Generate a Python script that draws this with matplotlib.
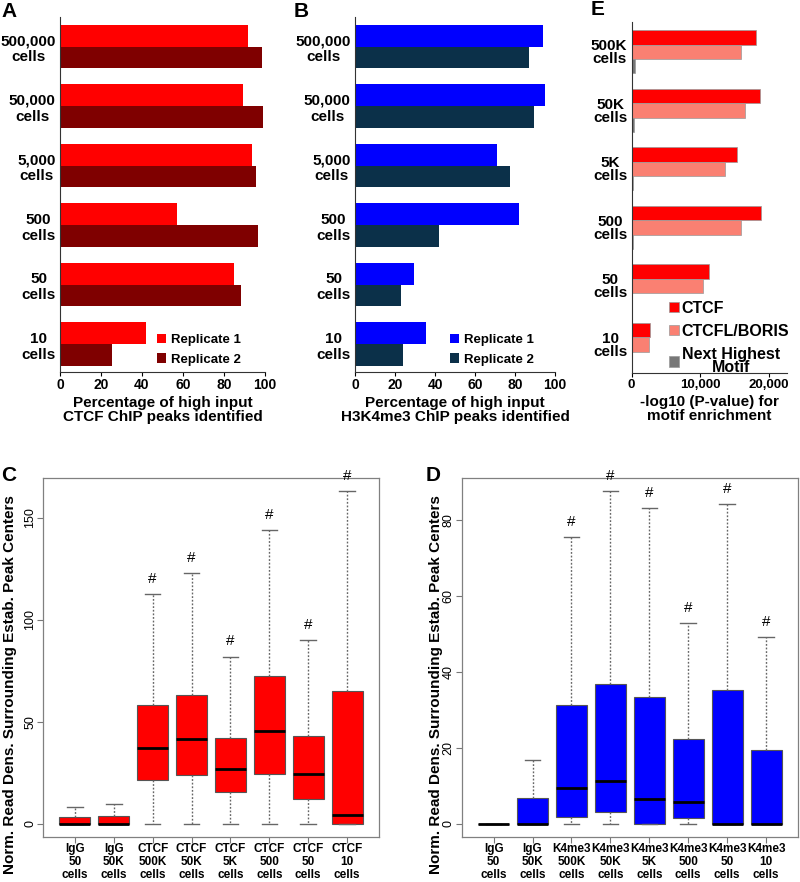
import numpy as np
import matplotlib.pyplot as plt
from matplotlib.ticker import StrMethodFormatter

plt.rcParams['font.family'] = ['Liberation Sans', 'DejaVu Sans']

# panels A and B: percentage of high input peaks identified
cell_labels = ['500,000\ncells', '50,000\ncells', '5,000\ncells', '500\ncells', '50\ncells', '10\ncells']
ctcf_rep1 = [91.5, 89.1, 93.8, 56.9, 85.0, 42.0]
ctcf_rep2 = [98.7, 99.2, 95.8, 96.7, 88.3, 25.5]
k4_rep1 = [94.0, 95.2, 71.0, 82.2, 29.5, 35.3]
k4_rep2 = [87.0, 89.4, 77.6, 42.2, 22.8, 24.0]
pct_ticks = [0, 20, 40, 60, 80, 100]

# panel E: motif enrichment
motif_labels = ['500K\ncells', '50K\ncells', '5K\ncells', '500\ncells', '50\ncells', '10\ncells']
ctcf_motif = [18200, 18800, 15400, 18900, 11300, 2700]
boris_motif = [16000, 16600, 13600, 16000, 10500, 2550]
next_motif = [560, 320, 190, 190, 90, 50]
motif_ticks = [0, 10000, 20000]

# panel C: CTCF read density boxplots
c_labels = ['IgG\n50\ncells', 'IgG\n50K\ncells', 'CTCF\n500K\ncells', 'CTCF\n50K\ncells',
            'CTCF\n5K\ncells', 'CTCF\n500\ncells', 'CTCF\n50\ncells', 'CTCF\n10\ncells']
c_low = [0, 0, 0, 0, 0, 0, 0, 0]
c_q1 = [0, 0, 21.5, 23.7, 15.5, 24.3, 12.1, 0]
c_med = [0, 0, 36.9, 41.4, 26.6, 45.4, 24.3, 4.2]
c_q3 = [3.3, 3.9, 58.1, 63.3, 42.1, 72.3, 43.2, 65.1]
c_high = [8.2, 9.6, 112.7, 122.7, 81.9, 144.0, 90.0, 163.0]
c_sig = [False, False, True, True, True, True, True, True]
c_ticks = [0, 50, 100, 150]

# panel D: H3K4me3 read density boxplots
d_labels = ['IgG\n50\ncells', 'IgG\n50K\ncells', 'K4me3\n500K\ncells', 'K4me3\n50K\ncells',
            'K4me3\n5K\ncells', 'K4me3\n500\ncells', 'K4me3\n50\ncells', 'K4me3\n10\ncells']
d_low = [0, 0, 0, 0, 0, 0, 0, 0]
d_q1 = [0, 0, 1.8, 3.1, 0, 1.6, 0, 0]
d_med = [0, 0, 9.3, 11.3, 6.4, 5.7, 0, 0]
d_q3 = [0, 6.7, 31.3, 36.9, 33.3, 22.2, 35.2, 19.5]
d_high = [0, 16.7, 75.5, 87.5, 83.1, 52.8, 84.2, 49.1]
d_sig = [False, False, True, True, True, True, True, True]
d_ticks = [0, 20, 40, 60, 80]

ylab = 'Norm. Read Dens. Surrounding Estab. Peak Centers'

W, H = 800, 882
fig = plt.figure(figsize=(W / 100, H / 100), dpi=100)


def px_axes(left, top, right, bottom):
    return fig.add_axes([left / W, 1 - bottom / H, (right - left) / W, (bottom - top) / H])


def fig_xy(x, y):
    return (x / W, 1 - y / H)


def style_hbar(ax, labels, ticks, xlabel):
    y = np.arange(len(labels))[::-1]
    ax.set_yticks(y)
    ax.set_yticklabels(labels, fontsize=11, fontweight='bold', linespacing=1.2,
                       multialignment='center')
    ax.tick_params(axis='y', length=0, pad=3)
    ax.set_xticks(ticks)
    ax.tick_params(axis='x', labelsize=10, length=3, width=0.8, pad=1)
    for t in ax.get_xticklabels():
        t.set_fontweight('bold')
    ax.spines[['top', 'right']].set_visible(False)
    for s in ['left', 'bottom']:
        ax.spines[s].set_color('#333333')
        ax.spines[s].set_linewidth(0.8)
    ax.set_xlabel(xlabel, fontsize=11, fontweight='bold', linespacing=1.0, labelpad=3)


def rep_panel(ax, rep1, rep2, c1, c2, xlabel, leg_x):
    y = np.arange(len(cell_labels))[::-1]
    ax.barh(y + 0.1825, rep1, height=0.365, color=c1, label='Replicate 1')
    ax.barh(y - 0.1825, rep2, height=0.365, color=c2, label='Replicate 2')
    ax.set_ylim(-0.47, 5.5)
    ax.set_xlim(0, 100)
    style_hbar(ax, cell_labels, pct_ticks, xlabel)
    ax.legend(loc='upper left', bbox_to_anchor=fig_xy(leg_x, 334), bbox_transform=fig.transFigure,
              frameon=False, prop={'weight': 'bold', 'size': 9.5}, handlelength=0.7,
              handleheight=0.7, handletextpad=0.35, labelspacing=0.55, borderpad=0,
              borderaxespad=0)


def box_panel(ax, labels, low, q1, med, q3, high, sig, color, ticks):
    stats = []
    for i in range(len(labels)):
        stats.append({'whislo': low[i], 'q1': q1[i], 'med': med[i], 'q3': q3[i],
                      'whishi': high[i], 'fliers': []})
    pos = np.arange(1, len(labels) + 1)
    ax.bxp(stats, positions=pos, widths=0.8, capwidths=0.4, patch_artist=True, showfliers=False,
           boxprops=dict(facecolor=color, edgecolor='#555555', linewidth=0.8),
           medianprops=dict(color='black', linewidth=2),
           whiskerprops=dict(color='#666666', linestyle=(0, (1.3, 1.3)), linewidth=1.0),
           capprops=dict(color='#666666', linewidth=1.0))
    for i in range(len(labels)):
        if sig[i]:
            ax.annotate('#', (pos[i], high[i]), xytext=(0, 11), textcoords='offset points',
                        ha='center', va='center', fontsize=11)
    lo, hi = min(low), max(high)
    ax.set_ylim(lo - 0.04 * (hi - lo), hi + 0.04 * (hi - lo))
    n = len(labels)
    ax.set_xlim(0.5 - 0.04 * n, n + 0.5 + 0.04 * n)
    ax.set_xticks(pos)
    ax.set_xticklabels(labels, fontsize=8.5, fontweight='bold', linespacing=1.08)
    ax.set_yticks(ticks)
    ax.tick_params(axis='x', length=4.5, color='#777777', pad=0)
    ax.tick_params(axis='y', length=4.5, color='#777777', pad=0.5, labelsize=9, labelrotation=90)
    for t in ax.get_yticklabels():
        t.set_va('center')
    for s in ax.spines.values():
        s.set_color('#808080')
        s.set_linewidth(0.9)


# A
ax_a = px_axes(60, 17, 265, 372)
rep_panel(ax_a, ctcf_rep1, ctcf_rep2, '#ff0000', '#7f0000',
          'Percentage of high input\nCTCF ChIP peaks identified', 157)

# B
ax_b = px_axes(355, 17, 555, 372)
rep_panel(ax_b, k4_rep1, k4_rep2, '#0000ff', '#0b3049',
          'Percentage of high input\nH3K4me3 ChIP peaks identified', 450)

# E
ax_e = px_axes(631.5, 22, 787, 373)
ye = np.arange(len(motif_labels))[::-1]
ax_e.barh(ye + 0.246, ctcf_motif, height=0.246, color='#ff0000', edgecolor='#999999',
          linewidth=0.5, label='CTCF')
ax_e.barh(ye, boris_motif, height=0.246, color='#fa8072', edgecolor='#999999',
          linewidth=0.5, label='CTCFL/BORIS')
ax_e.barh(ye - 0.246, next_motif, height=0.246, color='#777777', edgecolor='#999999',
          linewidth=0.5, label='Next Highest\nMotif')
ax_e.set_ylim(-0.49, 5.51)
ax_e.set_xlim(0, 22700)
style_hbar(ax_e, motif_labels, motif_ticks, '-log10 (P-value) for\nmotif enrichment')
for t in ax_e.get_yticklabels():
    t.set_linespacing(0.92)
ax_e.xaxis.set_major_formatter(StrMethodFormatter('{x:,.0f}'))
ax_e.tick_params(axis='x', labelsize=9.5)
for t in ax_e.get_xticklabels():
    t.set_fontweight('bold')
leg = ax_e.legend(loc='upper left', bbox_to_anchor=fig_xy(669, 301), bbox_transform=fig.transFigure,
                  frameon=False, prop={'weight': 'bold', 'size': 11.5}, handlelength=0.6,
                  handleheight=0.6, handletextpad=0.2, labelspacing=0.5, borderpad=0,
                  borderaxespad=0)
for t in leg.get_texts():
    t.set_multialignment('center')
    t.set_linespacing(0.85)

# C
ax_c = px_axes(43, 478, 379, 837)
box_panel(ax_c, c_labels, c_low, c_q1, c_med, c_q3, c_high, c_sig, '#ff0000', c_ticks)
ax_c.set_ylabel(ylab, fontsize=11, fontweight='bold')
ax_c.yaxis.set_label_coords(-0.078, 0.425)

# D
ax_d = px_axes(461.7, 478, 798, 837)
box_panel(ax_d, d_labels, d_low, d_q1, d_med, d_q3, d_high, d_sig, '#0000ff', d_ticks)
ax_d.set_ylabel(ylab, fontsize=11, fontweight='bold')
ax_d.yaxis.set_label_coords(-0.0565, 0.425)

for letter, x, y in [('A', 1, 2), ('B', 294, 2), ('E', 591, 0), ('C', 1, 466), ('D', 426, 466)]:
    fig.text(*fig_xy(x, y), letter, ha='left', va='top', fontsize=15, fontweight='bold')

fig.savefig('out.png', dpi=100)
